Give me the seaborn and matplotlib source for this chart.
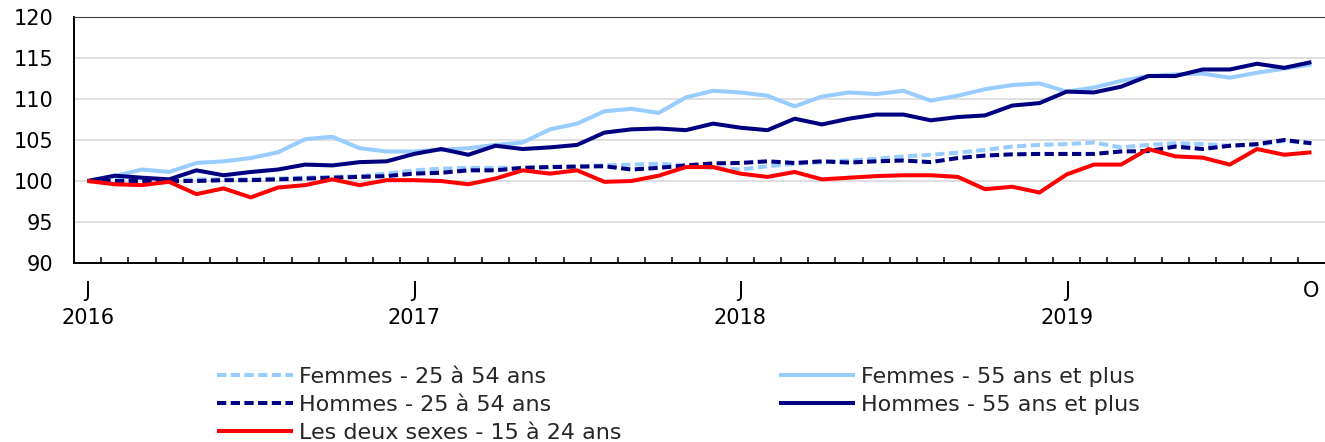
import numpy as np
import pandas as pd
import matplotlib
matplotlib.use("Agg")
import matplotlib.pyplot as plt
import seaborn as sns

# ---------------- data ----------------
months = pd.date_range("2016-01-01", "2019-10-01", freq="MS")
tick_positions = [0, 12, 24, 36, 45]
tick_labels = ["J\n2016", "J\n2017", "J\n2018", "J\n2019", "O"]

femmes_25_54 = [100.0, 100.1, 100.2, 100.1, 100.2, 100.2, 100.2, 100.3, 100.4, 100.5,
                100.6, 100.9, 101.3, 101.5, 101.6, 101.6, 101.6, 101.7, 101.8, 101.9,
                102.0, 102.1, 101.9, 101.6, 101.4, 101.8, 102.1, 102.3, 102.5, 102.7,
                103.0, 103.2, 103.45, 103.8, 104.2, 104.4, 104.5, 104.7, 104.1, 104.4,
                104.6, 104.5, 104.3, 104.4, 104.9, 104.6]
femmes_55_plus = [100.0, 100.6, 101.4, 101.1, 102.2, 102.4, 102.8, 103.5, 105.1, 105.4,
                  104.0, 103.6, 103.6, 103.8, 104.0, 104.4, 104.7, 106.3, 107.0, 108.5,
                  108.8, 108.3, 110.2, 111.0, 110.8, 110.4, 109.1, 110.3, 110.8, 110.6,
                  111.0, 109.8, 110.4, 111.2, 111.7, 111.9, 110.9, 111.4, 112.2, 112.8,
                  113.0, 113.1, 112.6, 113.2, 113.7, 114.2]
hommes_25_54 = [100.0, 100.0, 100.0, 100.0, 100.0, 100.1, 100.1, 100.2, 100.3, 100.4,
                100.5, 100.6, 100.9, 101.0, 101.3, 101.3, 101.6, 101.7, 101.75, 101.8,
                101.4, 101.6, 101.9, 102.15, 102.2, 102.4, 102.2, 102.4, 102.25, 102.4,
                102.5, 102.3, 102.8, 103.1, 103.25, 103.3, 103.3, 103.3, 103.6, 103.65,
                104.2, 103.9, 104.3, 104.5, 105.0, 104.6]
hommes_55_plus = [100.0, 100.65, 100.4, 100.2, 101.3, 100.7, 101.1, 101.4, 102.0, 101.9,
                  102.3, 102.4, 103.3, 103.9, 103.2, 104.3, 103.9, 104.1, 104.4, 105.9,
                  106.3, 106.4, 106.2, 107.0, 106.5, 106.2, 107.6, 106.9, 107.6, 108.1,
                  108.1, 107.4, 107.8, 108.0, 109.2, 109.5, 110.9, 110.8, 111.5, 112.8,
                  112.8, 113.6, 113.6, 114.3, 113.8, 114.5]
deux_sexes_15_24 = [100.0, 99.6, 99.5, 99.9, 98.4, 99.1, 98.0, 99.2, 99.5, 100.2,
                    99.5, 100.1, 100.1, 100.0, 99.6, 100.3, 101.3, 100.9, 101.3, 99.9,
                    100.0, 100.65, 101.7, 101.7, 100.9, 100.5, 101.1, 100.2, 100.4, 100.6,
                    100.7, 100.7, 100.5, 99.0, 99.3, 98.6, 100.8, 102.0, 102.0, 103.9,
                    103.0, 102.85, 102.0, 103.9, 103.2, 103.5]

series_names = ["Femmes - 25 à 54 ans", "Femmes - 55 ans et plus",
                "Hommes - 25 à 54 ans", "Hommes - 55 ans et plus",
                "Les deux sexes - 15 à 24 ans"]
series_values = [femmes_25_54, femmes_55_plus, hommes_25_54, hommes_55_plus, deux_sexes_15_24]
series_colors = ["#99CCFF", "#99CCFF", "#000080", "#000080", "#FF0000"]
series_dashed = [True, False, True, False, False]

# ---------------- figure ----------------
sns.set_theme(style="white")
plt.rcParams["font.family"] = ["DejaVu Sans"]
FS = 15
LFS = 16

fig = plt.figure(figsize=(13.25, 4.42), dpi=100)
ax = fig.add_axes([74 / 1325, 1 - 263 / 442, 1 - 74 / 1325, (263 - 17) / 442])

xpos = np.arange(len(months))
handles = {}
for name, vals, col, dashed in zip(series_names, series_values, series_colors, series_dashed):
    df = pd.DataFrame({"x": xpos, "y": vals})
    sns.lineplot(data=df, x="x", y="y", ax=ax, color=col, linewidth=2.9,
                 legend=False, zorder=3)
    line = ax.get_lines()[-1]
    if dashed:
        line.set_dashes((2.3, 1.1))
    line.set_solid_capstyle("butt")
    handles[name] = line

ax.set_xlim(-0.5, 45.5)
ax.set_ylim(90, 120)
ax.set_yticks(np.arange(90, 121, 5))
ax.set_yticklabels([str(v) for v in range(90, 121, 5)], fontsize=FS)
ax.set_xticks(tick_positions)
ax.set_xticklabels(tick_labels, fontsize=FS)
for lbl in ax.get_xticklabels():
    lbl.set_linespacing(1.45)
ax.set_xticks(np.arange(0.5, 45.5, 1), minor=True)
ax.tick_params(axis="x", which="major", length=0, pad=13, colors="black")
ax.tick_params(axis="x", which="minor", direction="in", length=4, width=1.1,
               color="black", bottom=True)
ax.tick_params(axis="y", which="both", length=0, pad=15, colors="black")
ax.set_xlabel("")
ax.set_ylabel("")

ax.grid(axis="y", color="#D9D9D9", linewidth=1.2, zorder=0)
ax.grid(axis="x", visible=False)
for s in ["left", "bottom"]:
    ax.spines[s].set_visible(True)
    ax.spines[s].set_color("black")
    ax.spines[s].set_linewidth(1.4)
ax.spines["top"].set_visible(True)
ax.spines["top"].set_color("#404040")
ax.spines["top"].set_linewidth(0.8)
ax.spines["right"].set_visible(False)

# ---------------- legend (two columns) ----------------
leg_kw = dict(frameon=False, fontsize=LFS, handlelength=3.4, handletextpad=0.3,
              labelspacing=0.35, borderpad=0, borderaxespad=0, loc="upper left")
col1 = [series_names[0], series_names[2], series_names[4]]
col2 = [series_names[1], series_names[3]]
leg1 = fig.legend([handles[n] for n in col1], col1,
                  bbox_to_anchor=(217 / 1325, 1 - 367 / 442), **leg_kw)
leg2 = fig.legend([handles[n] for n in col2], col2,
                  bbox_to_anchor=(779 / 1325, 1 - 367 / 442), **leg_kw)

fig.savefig("out.png", dpi=100)
